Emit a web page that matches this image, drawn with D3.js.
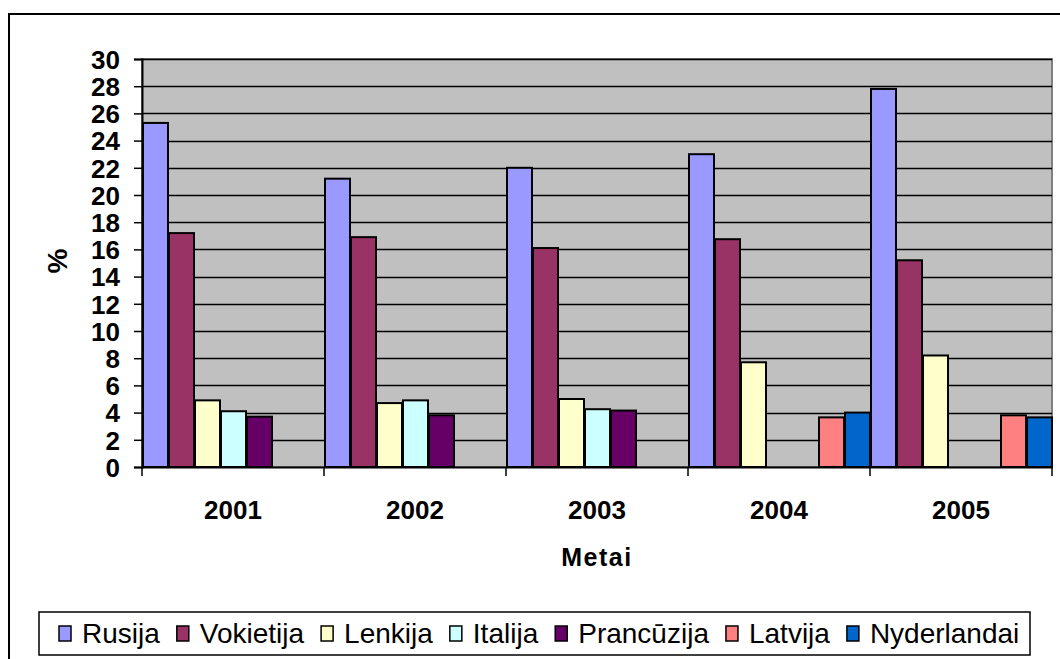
<!DOCTYPE html>
<html>
<head>
<meta charset="utf-8">
<title>Metai</title>
<style>
  body { margin: 0; background: #fff; }
  svg { display: block; font-family: "Liberation Sans", Arial, sans-serif; }
</style>
</head>
<body>
<script src="https://cdn.jsdelivr.net/npm/d3@7"></script>
<script>
// data
var years = ["2001", "2002", "2003", "2004", "2005"];
var countries = ["Rusija", "Vokietija", "Lenkija", "Italija", "Prancūzija", "Latvija", "Nyderlandai"];
var rusija      = [25.3, 21.2, 22.0, 23.0, 27.8];
var vokietija   = [17.2, 16.9, 16.1, 16.75, 15.2];
var lenkija     = [4.9, 4.7, 5.0, 7.7, 8.2];
var italija     = [4.1, 4.9, 4.25, null, null];
var prancuzija  = [3.7, 3.8, 4.15, null, null];
var latvija     = [null, null, null, 3.65, 3.8];
var nyderlandai = [null, null, null, 4.0, 3.65];
var yTicks = d3.range(0, 31, 2);
var colors = ["#9999FF", "#993366", "#FFFFCC", "#CCFFFF", "#660066", "#FF8080", "#0066CC"];

var series = [rusija, vokietija, lenkija, italija, prancuzija, latvija, nyderlandai];

var W = 1060, H = 659;
var plot = {left: 142, top: 59, right: 1052, bottom: 467};

var svg = d3.select("body").append("svg")
  .attr("width", W).attr("height", H);

// outer chart frame (runs off the right and bottom of the picture)
svg.append("rect")
  .attr("x", 9).attr("y", 14)
  .attr("width", W + 20).attr("height", H + 20)
  .attr("fill", "#fff").attr("stroke", "#000").attr("stroke-width", 2);

var x0 = d3.scaleBand().domain(years).range([plot.left, plot.right]).padding(0);
var x1 = d3.scaleBand().domain(countries).range([0, x0.bandwidth()]).padding(0);
var y = d3.scaleLinear().domain([0, 30]).range([plot.bottom, plot.top]);

// plot background
svg.append("rect")
  .attr("x", plot.left).attr("y", plot.top)
  .attr("width", plot.right - plot.left).attr("height", plot.bottom - plot.top)
  .attr("fill", "#C0C0C0").attr("stroke", "#808080").attr("stroke-width", 2);

// gridlines
svg.append("g").selectAll("line")
  .data(yTicks.filter(function(d){ return d > 0; }))
  .enter().append("line")
  .attr("x1", plot.left).attr("x2", plot.right)
  .attr("y1", function(d){ return Math.round(y(d)) + 0.5; })
  .attr("y2", function(d){ return Math.round(y(d)) + 0.5; })
  .attr("stroke", "#000").attr("stroke-width", 1.5);

// bars
var groups = svg.append("g").selectAll("g")
  .data(years)
  .enter().append("g")
  .attr("transform", function(d){ return "translate(" + x0(d) + ",0)"; });

groups.selectAll("rect")
  .data(function(d, i){
    return countries.map(function(c, j){ return {c: c, v: series[j][i], k: j}; })
      .filter(function(e){ return e.v != null; });
  })
  .enter().append("rect")
  .attr("x", function(d){ return x1(d.c) + 1; })
  .attr("y", function(d){ return y(d.v); })
  .attr("width", x1.bandwidth() - 1)
  .attr("height", function(d){ return y(0) - y(d.v); })
  .attr("fill", function(d){ return colors[d.k]; })
  .attr("stroke", "#000").attr("stroke-width", 2);

// y axis
var yAxis = svg.append("g")
  .attr("transform", "translate(" + plot.left + ",0)")
  .call(d3.axisLeft(y).tickValues(yTicks).tickSize(8).tickPadding(14));
yAxis.select(".domain").attr("stroke", "#000").attr("stroke-width", 2);
yAxis.selectAll(".tick line").attr("stroke", "#000").attr("stroke-width", 1.5);
yAxis.selectAll("text")
  .style("font-family", "Liberation Sans, Arial, sans-serif")
  .style("font-size", "26px").style("font-weight", "bold").attr("fill", "#000")
  .attr("dy", "0.36em");

// x axis
var xAxis = svg.append("g")
  .attr("transform", "translate(0," + plot.bottom + ")")
  .call(d3.axisBottom(x0).tickSize(0).tickPadding(34));
xAxis.select(".domain").attr("stroke", "#000").attr("stroke-width", 2);
xAxis.selectAll("text")
  .style("font-family", "Liberation Sans, Arial, sans-serif")
  .style("font-size", "26px").style("font-weight", "bold").attr("fill", "#000");
xAxis.append("g").selectAll("line")
  .data(years.concat(["end"]))
  .enter().append("line")
  .attr("x1", function(d, i){ return plot.left + i * x0.bandwidth(); })
  .attr("x2", function(d, i){ return plot.left + i * x0.bandwidth(); })
  .attr("y1", 0).attr("y2", 9)
  .attr("stroke", "#000").attr("stroke-width", 1.5);

// axis titles
svg.append("text")
  .attr("x", (plot.left + plot.right) / 2).attr("y", 566)
  .attr("text-anchor", "middle")
  .style("font-size", "25px").style("font-weight", "bold").style("letter-spacing", "1.5px")
  .text("Metai");

svg.append("text")
  .attr("transform", "translate(67,261) rotate(-90)")
  .attr("text-anchor", "middle")
  .style("font-size", "28px").style("font-weight", "bold")
  .text("%");

// legend
var legend = svg.append("g");
legend.append("rect")
  .attr("x", 39).attr("y", 612).attr("width", 991).attr("height", 43)
  .attr("fill", "#fff").attr("stroke", "#000").attr("stroke-width", 1.5);

var lx = 59;
countries.forEach(function(c, i){
  legend.append("rect")
    .attr("x", lx).attr("y", 626).attr("width", 12).attr("height", 15)
    .attr("fill", colors[i]).attr("stroke", "#000").attr("stroke-width", 1.5);
  var t = legend.append("text")
    .attr("x", lx + 23).attr("y", 643)
    .style("font-size", "28px")
    .text(c);
  lx += 23 + t.node().getComputedTextLength() + 17;
});
</script>
</body>
</html>
